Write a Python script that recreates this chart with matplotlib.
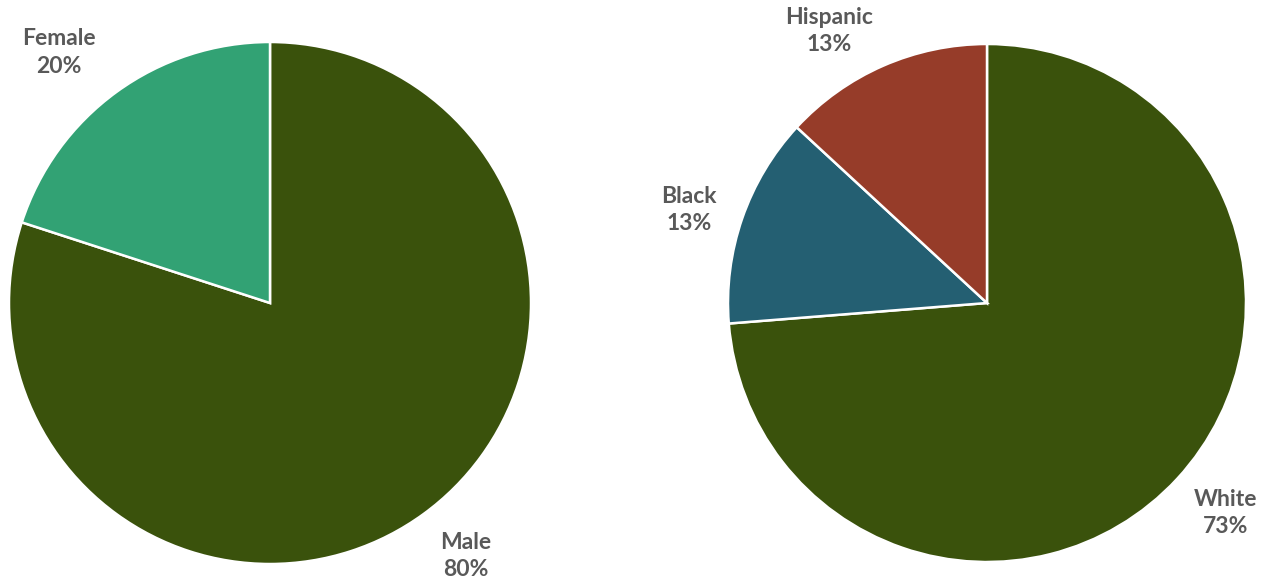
import matplotlib.pyplot as plt

# gender split
gender_labels = ['Male', 'Female']
gender_values = [80, 20]
gender_colors = ['#3A520C', '#32A274']

# race / ethnicity split
race_labels = ['White', 'Black', 'Hispanic']
race_values = [73, 13, 13]
race_colors = ['#3A520C', '#245F72', '#963C29']

W, H = 1266, 580
fig = plt.figure(figsize=(W / 100, H / 100), dpi=100)


def draw_pie(box, labels, values, colors, label_xy):
    ax = fig.add_axes(box)
    ax.pie(values, colors=colors, startangle=90, counterclock=False,
           wedgeprops=dict(edgecolor='white', linewidth=1.8))
    # labels sit outside the wedges, in radius units
    for l, v, (x, y) in zip(labels, values, label_xy):
        ax.text(x, y, f'{l}\n{v}%', ha='center', va='center',
                fontsize=16.5, fontweight='bold', color='#595959',
                family='Lato', linespacing=1.38)
    ax.set_xlim(-1, 1)
    ax.set_ylim(-1, 1)
    ax.set_aspect('equal')
    ax.axis('off')
    return ax


# axes boxes in pixels: centre +/- radius
r1 = 261
draw_pie([(270 - r1) / W, (H - 303 - r1) / H, 2 * r1 / W, 2 * r1 / H],
         gender_labels, gender_values, gender_colors,
         [(0.75, -0.97), (-0.81, 0.96)])
r2 = 259
draw_pie([(987 - r2) / W, (H - 303 - r2) / H, 2 * r2 / W, 2 * r2 / H],
         race_labels, race_values, race_colors,
         [(0.92, -0.81), (-1.15, 0.36), (-0.61, 1.05)])

fig.savefig('out.png', dpi=100)
